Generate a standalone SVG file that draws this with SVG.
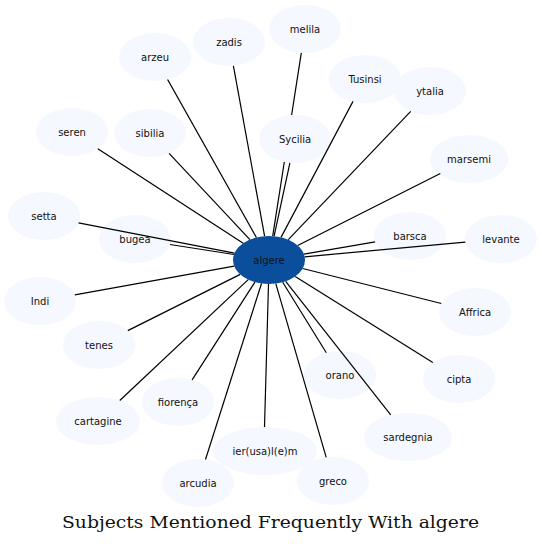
<svg xmlns="http://www.w3.org/2000/svg" width="542" height="544" viewBox="0 0 542 544">
<style>
.n ellipse{fill:#f5f8fe;stroke:none}
.n text{font-family:"DejaVu Sans","Liberation Sans",sans-serif;font-size:10px;text-anchor:middle;fill:#111}
#n_algere ellipse{fill:#0b4f9c}
#edges line{stroke:#000;stroke-width:1.2}
.title{font-family:"DejaVu Serif","Liberation Serif",serif;font-size:16.5px;fill:#111}
</style>
<rect width="542" height="544" fill="#fff"/>
<g id="nodes">
<g id="n_algere" class="n"><ellipse cx="269" cy="260" rx="36" ry="24"/><text x="269" y="263.5">algere</text></g>
<g id="n_melila" class="n"><ellipse cx="305" cy="29" rx="36" ry="24"/><text x="305" y="32.5">melila</text></g>
<g id="n_zadis" class="n"><ellipse cx="229" cy="42" rx="36" ry="24"/><text x="229" y="45.5">zadis</text></g>
<g id="n_arzeu" class="n"><ellipse cx="155" cy="57" rx="36" ry="24"/><text x="155" y="60.5">arzeu</text></g>
<g id="n_Tusinsi" class="n"><ellipse cx="365" cy="79" rx="36" ry="24"/><text x="365" y="82.5">Tusinsi</text></g>
<g id="n_ytalia" class="n"><ellipse cx="430" cy="91" rx="36" ry="24"/><text x="430" y="94.5">ytalia</text></g>
<g id="n_seren" class="n"><ellipse cx="72" cy="132" rx="36" ry="24"/><text x="72" y="135.5">seren</text></g>
<g id="n_sibilia" class="n"><ellipse cx="150" cy="133" rx="36" ry="24"/><text x="150" y="136.5">sibilia</text></g>
<g id="n_Sycilia" class="n"><ellipse cx="295" cy="139" rx="36" ry="24"/><text x="295" y="142.5">Sycilia</text></g>
<g id="n_marsemi" class="n"><ellipse cx="469" cy="159" rx="39" ry="24"/><text x="469" y="162.5">marsemi</text></g>
<g id="n_setta" class="n"><ellipse cx="44" cy="216" rx="36" ry="24"/><text x="44" y="219.5">setta</text></g>
<g id="n_bugea" class="n"><ellipse cx="135" cy="239" rx="36" ry="24"/><text x="135" y="242.5">bugea</text></g>
<g id="n_barsca" class="n"><ellipse cx="410" cy="236" rx="36" ry="24"/><text x="410" y="239.5">barsca</text></g>
<g id="n_levante" class="n"><ellipse cx="501" cy="239" rx="36" ry="24"/><text x="501" y="242.5">levante</text></g>
<g id="n_Indi" class="n"><ellipse cx="40" cy="301" rx="36" ry="24"/><text x="40" y="304.5">Indi</text></g>
<g id="n_Affrica" class="n"><ellipse cx="475" cy="312" rx="36" ry="24"/><text x="475" y="315.5">Affrica</text></g>
<g id="n_tenes" class="n"><ellipse cx="99" cy="345" rx="36" ry="24"/><text x="99" y="348.5">tenes</text></g>
<g id="n_orano" class="n"><ellipse cx="340" cy="375" rx="36" ry="24"/><text x="340" y="378.5">orano</text></g>
<g id="n_cipta" class="n"><ellipse cx="459" cy="379" rx="36" ry="24"/><text x="459" y="382.5">cipta</text></g>
<g id="n_fiorenca" class="n"><ellipse cx="178" cy="402" rx="36" ry="24"/><text x="178" y="405.5">fiorença</text></g>
<g id="n_cartagine" class="n"><ellipse cx="98" cy="421" rx="42" ry="24"/><text x="98" y="424.5">cartagine</text></g>
<g id="n_sardegnia" class="n"><ellipse cx="408" cy="437" rx="44" ry="24"/><text x="408" y="440.5">sardegnia</text></g>
<g id="n_ierusalem" class="n"><ellipse cx="265" cy="451" rx="52" ry="24"/><text x="265" y="454.5">ier(usa)l(e)m</text></g>
<g id="n_greco" class="n"><ellipse cx="333" cy="481" rx="36" ry="24"/><text x="333" y="484.5">greco</text></g>
<g id="n_arcudia" class="n"><ellipse cx="198" cy="483" rx="36" ry="24"/><text x="198" y="486.5">arcudia</text></g>
</g>
<g id="edges">
<line x1="264.6" y1="236.2" x2="233.4" y2="65.8"/>
<line x1="256.4" y1="237.5" x2="167.6" y2="79.5"/>
<line x1="301.3" y1="52.9" x2="291.6" y2="115"/>
<line x1="284.3" y1="162" x2="272.7" y2="236.1"/>
<line x1="274.1" y1="236.2" x2="289.9" y2="162.8"/>
<line x1="281" y1="237.4" x2="353" y2="101.4"/>
<line x1="288.3" y1="239.7" x2="410.7" y2="111.3"/>
<line x1="297.7" y1="245.5" x2="440.3" y2="173.5"/>
<line x1="243.2" y1="243.2" x2="97.8" y2="148.7"/>
<line x1="249.9" y1="239.6" x2="169.1" y2="153.4"/>
<line x1="234.5" y1="253.2" x2="78.5" y2="222.8"/>
<line x1="234" y1="254.5" x2="170" y2="244.5"/>
<line x1="303.9" y1="254.1" x2="375.1" y2="241.9"/>
<line x1="304.7" y1="256.8" x2="465.3" y2="242.2"/>
<line x1="234.2" y1="266.2" x2="74.8" y2="294.8"/>
<line x1="302.7" y1="268.5" x2="441.3" y2="303.5"/>
<line x1="240.2" y1="274.4" x2="127.8" y2="330.6"/>
<line x1="282.7" y1="282.2" x2="326.3" y2="352.8"/>
<line x1="295.2" y1="276.4" x2="432.8" y2="362.6"/>
<line x1="254.9" y1="282.1" x2="192.1" y2="379.9"/>
<line x1="248.2" y1="279.6" x2="119.8" y2="400.5"/>
<line x1="285.7" y1="281.3" x2="390.7" y2="414.9"/>
<line x1="268.5" y1="284" x2="264.5" y2="427"/>
<line x1="275.8" y1="283.6" x2="326.2" y2="457.4"/>
<line x1="261.5" y1="283.5" x2="205.5" y2="459.5"/>
</g>
<text class="title" x="62" y="528" textLength="417" lengthAdjust="spacingAndGlyphs">Subjects Mentioned Frequently With algere</text>
</svg>
